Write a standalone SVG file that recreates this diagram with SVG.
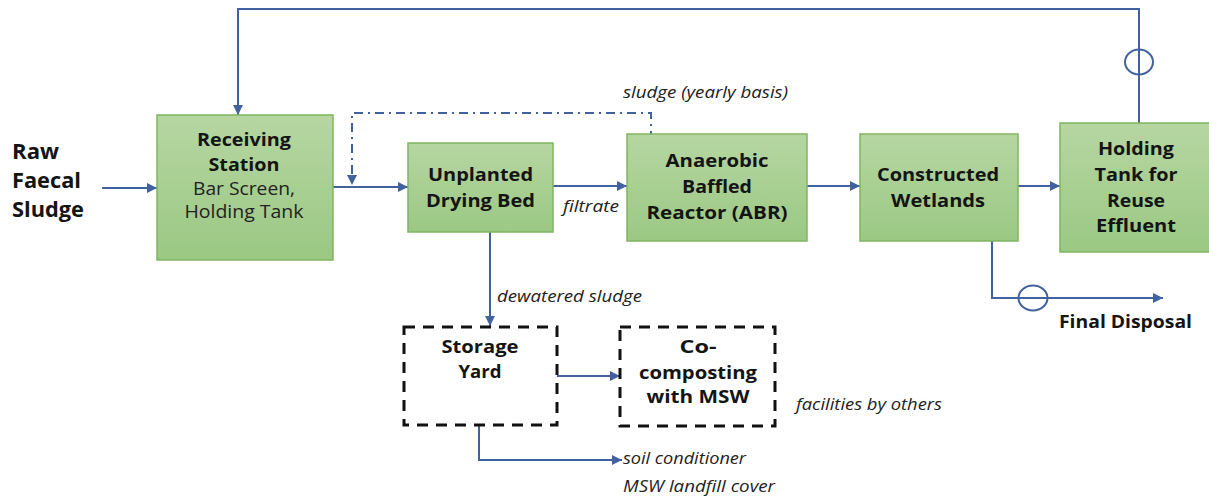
<svg xmlns="http://www.w3.org/2000/svg" width="1209" height="501" viewBox="0 0 1209 501">
<defs>
<linearGradient id="g" x1="0" y1="0" x2="0" y2="1">
<stop offset="0" stop-color="#b6d6a2"/>
<stop offset="1" stop-color="#9bc883"/>
</linearGradient>
<marker id="a" viewBox="0 0 10 10" refX="10" refY="5" markerWidth="10" markerHeight="10" markerUnits="userSpaceOnUse" orient="auto">
<path d="M0,0 L10,5 L0,10 z" fill="#41629f"/>
</marker>
<style>
.box{fill:url(#g);stroke:#7fb562;stroke-width:1.5}
.dbox{fill:none;stroke:#111;stroke-width:3;stroke-dasharray:11,8}
.c{fill:none;stroke:#41629f;stroke-width:2}
.dd{fill:none;stroke:#41629f;stroke-width:2;stroke-dasharray:9,5,2,5}
text{font-family:"Open Sans","Liberation Sans",sans-serif}
.t{font-size:17.5px;font-weight:bold;fill:#141414;text-anchor:middle}
.r{font-size:17.5px;fill:#222;text-anchor:middle}
.i{font-size:15.5px;font-style:italic;fill:#222}
.big{font-size:21px;font-weight:bold;fill:#141414}
</style>
</defs>
<rect width="1209" height="501" fill="#fff"/>
<g id="connectors">
<path class="c" d="M102,188 L157,188" marker-end="url(#a)"/>
<path class="c" d="M333,187 L408,187" marker-end="url(#a)"/>
<path class="c" d="M553,186 L627,186" marker-end="url(#a)"/>
<path class="c" d="M807,186 L860,186" marker-end="url(#a)"/>
<path class="c" d="M1018,186 L1060,186" marker-end="url(#a)"/>
<path class="c" d="M1139,123 L1139,9 L238,9 L238,115" marker-end="url(#a)"/>
<ellipse cx="1139" cy="62" rx="14" ry="12.5" fill="none" stroke="#41629f" stroke-width="2"/>
<path class="dd" d="M651,140 L651,113 L352,113 L352,185" marker-end="url(#a)"/>
<path class="c" d="M490,232 L490,326" marker-end="url(#a)"/>
<path class="c" d="M557,376 L620,376" marker-end="url(#a)"/>
<path class="c" d="M479,425 L479,460 L622,460" marker-end="url(#a)"/>
<path class="c" d="M992,240 L992,298 L1163,298" marker-end="url(#a)"/>
<ellipse cx="1033" cy="298" rx="14.5" ry="12.5" fill="none" stroke="#41629f" stroke-width="2"/>
</g>
<g id="raw">
<text class="big" x="12" y="159" textLength="47" lengthAdjust="spacingAndGlyphs">Raw</text>
<text class="big" x="12" y="188" textLength="69" lengthAdjust="spacingAndGlyphs">Faecal</text>
<text class="big" x="12" y="217" textLength="72" lengthAdjust="spacingAndGlyphs">Sludge</text>
</g>
<g id="receiving">
<rect class="box" x="157" y="115" width="176" height="145"/>
<text class="t" x="244" y="146" textLength="94" lengthAdjust="spacingAndGlyphs">Receiving</text>
<text class="t" x="244" y="171" textLength="71" lengthAdjust="spacingAndGlyphs">Station</text>
<text class="r" x="244" y="195" textLength="102" lengthAdjust="spacingAndGlyphs">Bar Screen,</text>
<text class="r" x="244" y="218" textLength="119" lengthAdjust="spacingAndGlyphs">Holding Tank</text>
</g>
<g id="drying">
<rect class="box" x="408" y="143" width="145" height="89"/>
<text class="t" x="480.5" y="181" textLength="105" lengthAdjust="spacingAndGlyphs">Unplanted</text>
<text class="t" x="480.5" y="207" textLength="109" lengthAdjust="spacingAndGlyphs">Drying Bed</text>
</g>
<g id="abr">
<rect class="box" x="627" y="134" width="180" height="107"/>
<text class="t" x="717" y="167" textLength="103" lengthAdjust="spacingAndGlyphs">Anaerobic</text>
<text class="t" x="717" y="193" textLength="70" lengthAdjust="spacingAndGlyphs">Baffled</text>
<text class="t" x="717" y="219" textLength="141" lengthAdjust="spacingAndGlyphs">Reactor (ABR)</text>
</g>
<g id="wetlands">
<rect class="box" x="860" y="134" width="158" height="107"/>
<text class="t" x="938" y="181" textLength="122" lengthAdjust="spacingAndGlyphs">Constructed</text>
<text class="t" x="938" y="207" textLength="94" lengthAdjust="spacingAndGlyphs">Wetlands</text>
</g>
<g id="holding">
<rect class="box" x="1060" y="123" width="152" height="129"/>
<text class="t" x="1136" y="155" textLength="76" lengthAdjust="spacingAndGlyphs">Holding</text>
<text class="t" x="1136" y="181" textLength="83" lengthAdjust="spacingAndGlyphs">Tank for</text>
<text class="t" x="1136" y="207" textLength="58" lengthAdjust="spacingAndGlyphs">Reuse</text>
<text class="t" x="1136" y="232" textLength="80" lengthAdjust="spacingAndGlyphs">Effluent</text>
</g>
<g id="storage">
<rect class="dbox" x="404" y="327" width="153" height="98"/>
<text class="t" x="480" y="353" textLength="77" lengthAdjust="spacingAndGlyphs">Storage</text>
<text class="t" x="480" y="378" textLength="43" lengthAdjust="spacingAndGlyphs">Yard</text>
</g>
<g id="cocomposting">
<rect class="dbox" x="620" y="327" width="155" height="99"/>
<text class="t" x="698" y="353" textLength="37" lengthAdjust="spacingAndGlyphs">Co-</text>
<text class="t" x="698" y="379" textLength="118" lengthAdjust="spacingAndGlyphs">composting</text>
<text class="t" x="698" y="403" textLength="103" lengthAdjust="spacingAndGlyphs">with MSW</text>
</g>
<g id="labels">
<text class="i" x="623" y="98" textLength="165" lengthAdjust="spacingAndGlyphs">sludge (yearly basis)</text>
<text class="i" x="563" y="212" textLength="56" lengthAdjust="spacingAndGlyphs">filtrate</text>
<text class="i" x="497" y="302" textLength="145" lengthAdjust="spacingAndGlyphs">dewatered sludge</text>
<text class="i" x="796" y="410" textLength="146" lengthAdjust="spacingAndGlyphs">facilities by others</text>
<text class="i" x="623" y="464" textLength="123" lengthAdjust="spacingAndGlyphs">soil conditioner</text>
<text class="i" x="623" y="492" textLength="152" lengthAdjust="spacingAndGlyphs">MSW landfill cover</text>
<text class="t" x="1059" y="328" style="text-anchor:start" textLength="133" lengthAdjust="spacingAndGlyphs">Final Disposal</text>
</g>
</svg>
